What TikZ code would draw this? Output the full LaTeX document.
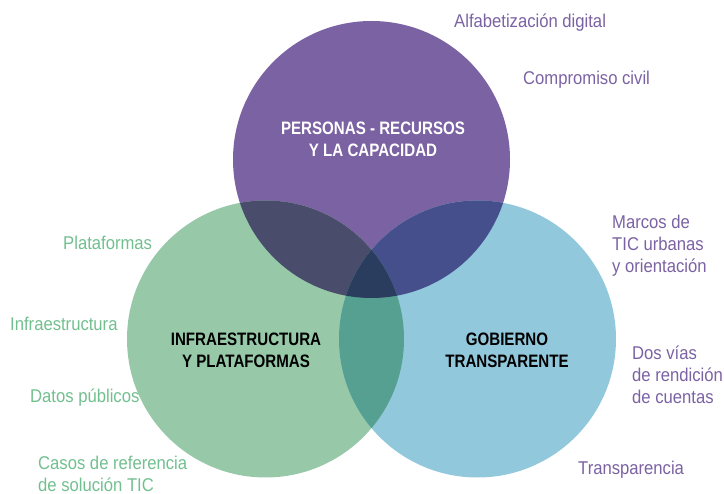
\documentclass[tikz,border=0pt]{standalone}
\usepackage{fontspec}
\setmainfont{Liberation Sans}
\newfontfamily\lblfont{Liberation Sans}[FakeStretch=0.9]
\newfontfamily\titfont{Liberation Sans}[FakeStretch=0.84]
\definecolor{cpers}{HTML}{7B62A3}
\definecolor{cinfra}{HTML}{97C9A9}
\definecolor{cgob}{HTML}{92C8DC}
\definecolor{cpi}{HTML}{4A4C6B}
\definecolor{cpg}{HTML}{454F8C}
\definecolor{cig}{HTML}{56A092}
\definecolor{call}{HTML}{2B3D5E}
\definecolor{tgreen}{HTML}{72BF8F}
\definecolor{tpurple}{HTML}{7B62A3}
\begin{document}
\begin{tikzpicture}[x=1pt, y=-1pt,
  lbl/.style={font=\lblfont\fontsize{18.5}{22}\selectfont, inner sep=0pt, anchor=base west, align=left},
  tit/.style={font=\titfont\bfseries\fontsize{18}{22}\selectfont, inner sep=0pt, anchor=base, align=center}]
  \useasboundingbox (0,0) rectangle (724,494);
  \def\rad{138.5}
  \coordinate (pers) at (371.5,159.5);
  \coordinate (infra) at (265.5,339);
  \coordinate (gob) at (477.5,339);
  % circles
  \fill[cpers] (pers) circle[radius=\rad];
  \fill[cinfra] (infra) circle[radius=\rad];
  \fill[cgob] (gob) circle[radius=\rad];
  % overlaps
  \begin{scope}
    \clip (pers) circle[radius=\rad];
    \fill[cpi] (infra) circle[radius=\rad];
    \fill[cpg] (gob) circle[radius=\rad];
  \end{scope}
  \begin{scope}
    \clip (infra) circle[radius=\rad];
    \fill[cig] (gob) circle[radius=\rad];
    \clip (gob) circle[radius=\rad];
    \fill[call] (pers) circle[radius=\rad];
  \end{scope}
  % titles (base = last line)
  \node[tit, text=white] (tpers) at (373,157) {PERSONAS - RECURSOS\\Y LA CAPACIDAD};
  \node[tit, text=black] (tinfra) at (246,368) {INFRAESTRUCTURA\\Y PLATAFORMAS};
  \node[tit, text=black] (tgob) at (507,368) {GOBIERNO\\TRANSPARENTE};
  % purple labels
  \node[lbl, text=tpurple] (alf) at (454,28) {Alfabetización digital};
  \node[lbl, text=tpurple] (comp) at (523,85) {Compromiso civil};
  \node[lbl, text=tpurple] (marcos) at (612,273) {Marcos de\\TIC urbanas\\y orientación};
  \node[lbl, text=tpurple] (dos) at (632,404) {Dos vías\\de rendición\\de cuentas};
  \node[lbl, text=tpurple] (transp) at (578,475) {Transparencia};
  % green labels
  \node[lbl, text=tgreen] (plat) at (63,250) {Plataformas};
  \node[lbl, text=tgreen] (infr) at (10,331) {Infraestructura};
  \node[lbl, text=tgreen] (datos) at (30,403) {Datos públicos};
  \node[lbl, text=tgreen] (casos) at (38,492) {Casos de referencia\\de solución TIC};
\end{tikzpicture}
\end{document}
